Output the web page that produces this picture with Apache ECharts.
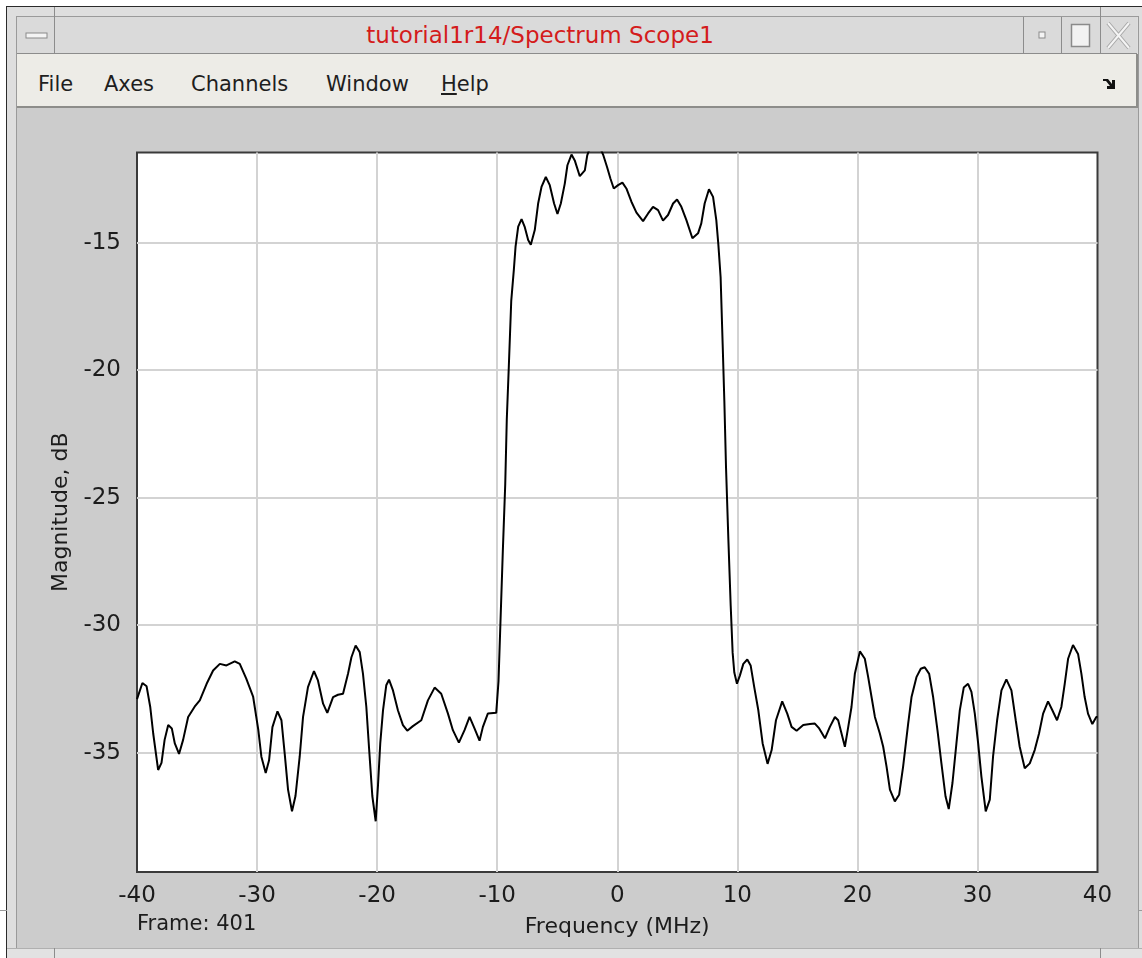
<!DOCTYPE html>
<html>
<head>
<meta charset="utf-8">
<title>tutorial1r14/Spectrum Scope1</title>
<script src="https://cdn.jsdelivr.net/npm/echarts@6/dist/echarts.min.js"></script>
<style>
  html, body { margin: 0; padding: 0; background: #ffffff; width: 1142px; height: 958px; overflow: hidden; }
  .abs { position: absolute; box-sizing: border-box; }
  #frame { left: 6px; top: 6px; width: 1136px; height: 952px; background: #dedede; border-left: 1px solid #2b2b2b; border-top: 1px solid #2b2b2b; }
  #frameInner { left: 16px; top: 16px; width: 1123px; height: 933px; border: 1px solid #9a9a9a; }
  #titlebar { left: 17px; top: 17px; width: 1120px; height: 37px; background: #dadada; border-bottom: 1px solid #8c8c8c; }
  #titleText { left: 17px; top: 17px; width: 1046px; height: 37px; line-height: 37px; text-align: center; color: #d41c1c; font-family: "DejaVu Sans", sans-serif; font-size: 23px; }
  .vline { position: absolute; width: 1px; background: #8c8c8c; }
  #menubar { left: 17px; top: 54px; width: 1121px; height: 54px; background: #edece7; border-bottom: 2px solid #8d8d8a; border-right: 2px solid #8d8d8a; }
  .menu { position: absolute; top: 70px; font-family: "DejaVu Sans", sans-serif; font-size: 21px; color: #1e1e1e; line-height: 28px; }
  #content { left: 17px; top: 108px; width: 1121px; height: 840px; background: #cccccc; }
  #bottomStrip { left: 7px; top: 948px; width: 1135px; height: 10px; background: #e2e2e2; border-top: 1px solid #b0b0b0; }
  #chart { position: absolute; left: 0; top: 0; width: 1142px; height: 958px; z-index: 5; }
</style>
</head>
<body>
<div class="abs" id="frame"></div>
<div class="abs" id="frameInner"></div>
<div class="abs" id="titlebar"></div>
<div class="abs" id="titleText">tutorial1r14/Spectrum Scope1</div>
<!-- title bar dividers -->
<div class="vline" style="left:54px;top:7px;height:47px;"></div>
<div class="vline" style="left:1023px;top:17px;height:37px;"></div>
<div class="vline" style="left:1061px;top:17px;height:37px;"></div>
<div class="vline" style="left:1100px;top:7px;height:47px;"></div>
<!-- window buttons -->
<svg class="abs" style="left:17px;top:17px;z-index:2" width="37" height="37">
  <rect x="9" y="16" width="21" height="5" fill="#f4f4f4" stroke="#8a8a8a" stroke-width="1"/>
</svg>
<svg class="abs" style="left:1023px;top:17px;z-index:2" width="38" height="37">
  <rect x="16" y="15" width="6" height="6" fill="#f4f4f4" stroke="#8a8a8a" stroke-width="1"/>
</svg>
<svg class="abs" style="left:1061px;top:17px;z-index:2" width="39" height="37">
  <rect x="10.5" y="7.5" width="18" height="22" fill="#f2f2f2" stroke="#8a8a8a" stroke-width="1.5"/>
</svg>
<svg class="abs" style="left:1100px;top:17px;z-index:2" width="37" height="37">
  <path d="M8 6 L29 31 M29 6 L8 31" stroke="#a8a8a8" stroke-width="4" fill="none"/>
  <path d="M8 6 L29 31 M29 6 L8 31" stroke="#f4f4f4" stroke-width="2" fill="none"/>
</svg>
<div class="abs" id="menubar"></div>
<div class="menu" style="left:38px;">File</div>
<div class="menu" style="left:104px;">Axes</div>
<div class="menu" style="left:191px;">Channels</div>
<div class="menu" style="left:326px;">Window</div>
<div class="menu" style="left:441px;"><span style="text-decoration:underline;">H</span>elp</div>
<svg class="abs" style="left:1102px;top:77px;z-index:2" width="16" height="14">
  <path d="M1 2 L6 2 L10 7 L10 3 L13 3 L13 12 L5 12 L5 9 L8 9 L4 4 L1 4 Z" fill="#111"/>
</svg>
<div class="abs" id="content"></div>
<div class="abs" id="bottomStrip"></div>
<div class="vline" style="left:54px;top:948px;height:10px;"></div>
<div class="vline" style="left:1100px;top:948px;height:10px;"></div>
<div class="abs" style="left:0;top:910px;width:7px;height:1px;background:#9a9a9a;"></div>
<div class="abs" style="left:1138px;top:910px;width:4px;height:1px;background:#9a9a9a;"></div>

<div id="chart"></div>

<script>
// Spectrum estimate of one frame (frequency in MHz, magnitude in dB)
const freqMHz = [
  -40.0, -39.55, -39.2, -38.9, -38.65, -38.24, -37.96, -37.7, -37.4, -37.1,
  -36.85, -36.5, -36.16, -35.74, -35.2, -34.77, -34.2, -33.66, -33.1, -32.55,
  -31.86, -31.44, -30.9, -30.33, -29.9, -29.64, -29.28, -29.0, -28.72, -28.3,
  -27.97, -27.7, -27.42, -27.09, -26.8, -26.45, -26.17, -25.76, -25.26, -24.93,
  -24.5, -24.15, -23.67, -23.26, -22.84, -22.42, -22.14, -21.79, -21.45, -21.18,
  -20.9, -20.68, -20.4, -20.12, -19.93, -19.74, -19.51, -19.24, -19.01, -18.68,
  -18.27, -17.85, -17.49, -17.02, -16.32, -15.77, -15.21, -14.66, -14.1, -13.69,
  -13.19, -12.72, -12.3, -11.89, -11.47, -11.19, -10.78, -10.08, -9.89, -9.75,
  -9.53, -9.33, -9.2, -9.03, -8.83, -8.61, -8.47, -8.25, -7.97, -7.7,
  -7.42, -7.2, -6.87, -6.59, -6.31, -5.95, -5.62, -5.26, -4.98, -4.7,
  -4.37, -4.15, -3.81, -3.54, -3.12, -2.7, -2.5, -2.2, -1.6, -1.18,
  -0.85, -0.57, -0.29, 0.07, 0.43, 0.76, 1.18, 1.6, 2.15, 2.57,
  2.98, 3.4, 3.81, 4.23, 4.65, 4.98, 5.34, 5.76, 6.26, 6.73,
  7.0, 7.28, 7.64, 7.98, 8.25, 8.42, 8.61, 8.78, 8.92, 9.06,
  9.25, 9.45, 9.61, 9.75, 9.97, 10.22, 10.5, 10.83, 11.11, 11.41,
  11.75, 12.11, 12.52, 12.86, 13.22, 13.74, 14.16, 14.52, 14.94, 15.49,
  16.05, 16.46, 16.82, 17.3, 17.71, 18.13, 18.4, 18.68, 18.96, 19.24,
  19.51, 19.79, 20.21, 20.62, 20.9, 21.18, 21.46, 21.87, 22.15, 22.43,
  22.71, 23.12, 23.48, 23.81, 24.23, 24.51, 24.92, 25.28, 25.61, 25.98,
  26.31, 26.67, 27.0, 27.34, 27.61, 27.92, 28.25, 28.53, 28.86, 29.22,
  29.5, 29.78, 30.06, 30.33, 30.69, 31.03, 31.3, 31.64, 32.0, 32.41,
  32.83, 33.19, 33.52, 33.94, 34.36, 34.77, 35.13, 35.47, 35.88, 36.24,
  36.63, 36.99, 37.27, 37.55, 37.96, 38.38, 38.66, 38.93, 39.21, 39.57,
  39.9, 40.0
];
const magnitudeDb = [
  -32.9, -32.27, -32.4, -33.2, -34.25, -35.68, -35.4, -34.5, -33.92, -34.05,
  -34.64, -35.05, -34.5, -33.6, -33.2, -32.95, -32.3, -31.78, -31.52, -31.58,
  -31.42, -31.52, -32.1, -32.8, -34.1, -35.16, -35.8, -35.3, -34.0, -33.38,
  -33.73, -35.03, -36.45, -37.3, -36.7, -35.16, -33.6, -32.43, -31.8, -32.17,
  -33.08, -33.44, -32.82, -32.73, -32.69, -31.9, -31.26, -30.8, -31.06, -31.9,
  -33.2, -34.77, -36.7, -37.69, -36.3, -34.64, -33.34, -32.36, -32.14, -32.56,
  -33.34, -33.92, -34.14, -33.96, -33.73, -32.95, -32.45, -32.69, -33.47, -34.12,
  -34.61, -34.12, -33.6, -34.05, -34.53, -33.99, -33.47, -33.44, -32.2, -30.2,
  -27.09, -24.48, -21.93, -19.84, -17.29, -16.05, -15.16, -14.38, -14.08, -14.4,
  -14.9, -15.09, -14.51, -13.47, -12.82, -12.43, -12.75, -13.47, -13.88, -13.47,
  -12.69, -11.97, -11.55, -11.78, -12.4, -12.17, -11.58, -11.2, -11.1, -11.55,
  -12.04, -12.49, -12.88, -12.75, -12.65, -12.88, -13.4, -13.83, -14.16, -13.86,
  -13.6, -13.73, -14.14, -13.92, -13.47, -13.31, -13.6, -14.12, -14.83, -14.64,
  -14.25, -13.47, -12.91, -13.21, -14.12, -15.07, -16.37, -18.99, -21.21, -23.82,
  -26.57, -29.25, -31.08, -31.86, -32.3, -31.97, -31.52, -31.35, -31.58, -32.43,
  -33.34, -34.64, -35.44, -34.9, -33.73, -32.99, -33.47, -33.99, -34.14, -33.92,
  -33.88, -33.86, -34.05, -34.44, -33.99, -33.6, -33.73, -34.25, -34.77, -33.99,
  -33.21, -31.91, -31.03, -31.32, -32.04, -32.82, -33.6, -34.25, -34.77, -35.55,
  -36.45, -36.91, -36.65, -35.55, -33.86, -32.82, -32.04, -31.71, -31.65, -31.91,
  -32.82, -34.12, -35.42, -36.71, -37.21, -36.19, -34.64, -33.34, -32.45, -32.3,
  -32.62, -33.47, -34.64, -35.94, -37.3, -36.84, -35.16, -33.73, -32.56, -32.13,
  -32.56, -33.73, -34.77, -35.61, -35.42, -34.9, -34.25, -33.47, -32.99, -33.34,
  -33.73, -33.21, -32.3, -31.32, -30.78, -31.13, -31.91, -32.82, -33.47, -33.88,
  -33.6, -33.6
];
// Axis limits and labelled ticks
const freqRange = [-40, 40];
const freqStep = 10;
const magRange = [-39.68, -11.47];
const magTicks = [-35, -30, -25, -20, -15];

const fontFamily = '"DejaVu Sans", sans-serif';
const textColor = '#1c1c1c';
const gridColor = '#d3d3d3';

const chart = echarts.init(document.getElementById('chart'), null, { renderer: 'canvas' });
chart.setOption({
  animation: false,
  backgroundColor: 'transparent',
  grid: {
    left: 137, top: 152.5, right: 44.5, bottom: 86,
    show: true, backgroundColor: '#ffffff', borderColor: '#3a3a3a', borderWidth: 2
  },
  xAxis: {
    type: 'value',
    min: freqRange[0], max: freqRange[1], interval: freqStep,
    axisLine: { show: false },
    axisTick: { show: false },
    splitLine: { show: true, showMinLine: false, showMaxLine: false, lineStyle: { color: gridColor, width: 2 } },
    axisLabel: { color: textColor, fontSize: 23, fontFamily: fontFamily, margin: 13, showMinLabel: true, showMaxLabel: true },
    name: 'Frequency (MHz)',
    nameLocation: 'middle',
    nameGap: 44,
    nameTextStyle: { color: textColor, fontSize: 22, fontFamily: fontFamily }
  },
  yAxis: {
    type: 'value',
    min: magRange[0], max: magRange[1],
    axisLine: { show: false },
    axisTick: { show: false, customValues: magTicks },
    splitLine: { show: true, lineStyle: { color: gridColor, width: 2 } },
    axisLabel: { customValues: magTicks, color: textColor, fontSize: 23, fontFamily: fontFamily, margin: 16 },
    name: 'Magnitude, dB',
    nameLocation: 'middle',
    nameRotate: 90,
    nameGap: 65,
    nameTextStyle: { color: textColor, fontSize: 22, fontFamily: fontFamily }
  },
  graphic: [{
    type: 'text',
    left: 137, top: 914,
    style: { text: 'Frame: 401', fill: textColor, font: '21px ' + fontFamily }
  }],
  series: [{
    type: 'line',
    data: freqMHz.map((f, i) => [f, magnitudeDb[i]]),
    showSymbol: false,
    clip: true,
    z: 5,
    lineStyle: { color: '#000000', width: 2 }
  }]
});
</script>
</body>
</html>
